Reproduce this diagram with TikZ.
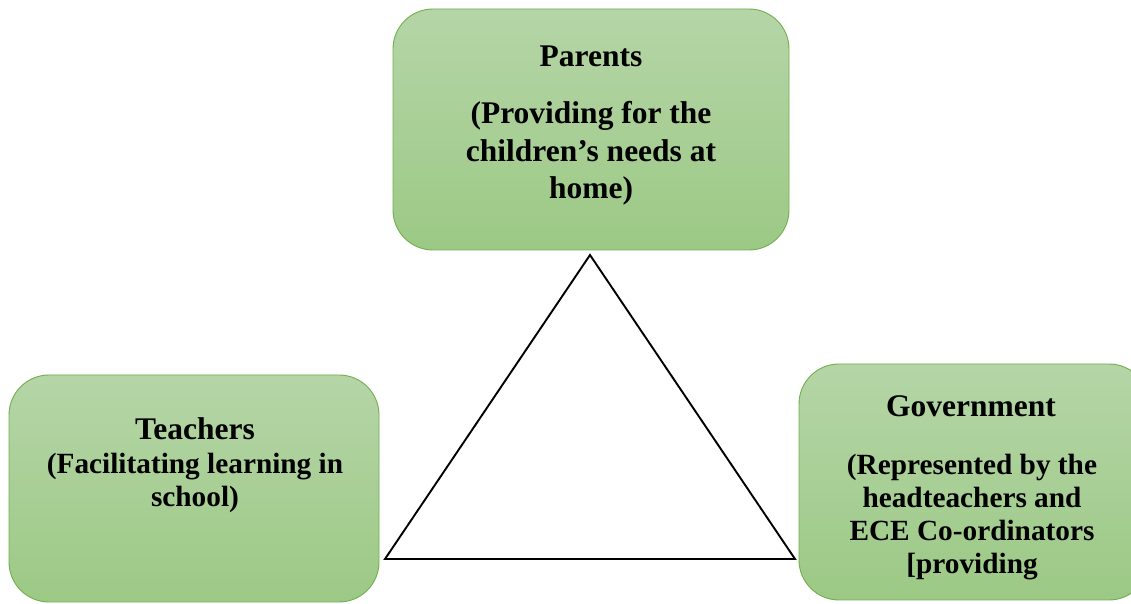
\documentclass[tikz,border=0pt]{standalone}
\usepackage{fontspec}
\setmainfont{Liberation Serif}
\definecolor{boxtop}{HTML}{B5D5A7}
\definecolor{boxbot}{HTML}{9CC985}
\definecolor{boxedge}{HTML}{72AE4E}
\begin{document}
\begin{tikzpicture}[x=1pt,y=1pt,
  box/.style={draw=boxedge, line width=0.9pt, rounded corners=40pt, top color=boxtop, bottom color=boxbot, inner sep=0pt},
  titletext/.style={anchor=base, inner sep=0pt, font=\bfseries\fontsize{31.5}{37.5}\selectfont},
  subbig/.style={anchor=base, inner sep=0pt, align=center, font=\bfseries\fontsize{31.5}{37.5}\selectfont},
  subsmall/.style={anchor=base, inner sep=0pt, align=center, font=\bfseries\fontsize{29.3}{33.3}\selectfont},
  tri/.style={draw=black, line width=1.9pt, line join=miter}]
\useasboundingbox (0,0) rectangle (1131,604);
\clip (0,0) rectangle (1131,604);
% boxes
\node[box, minimum width=396pt, minimum height=241pt] (parents) at (591,474.5) {};
\node[box, minimum width=370pt, minimum height=227pt] (teachers) at (194,115.5) {};
\node[box, minimum width=350pt, minimum height=236pt] (government) at (974,122) {};
% texts (base anchor = baseline of the last line)
\node[titletext] (parentsT) at (591,537) {Parents};
\node[subbig] (parentsS) at (591,405) {(Providing for the\\children’s needs at\\home)};
\node[titletext] (teachersT) at (195,164) {Teachers};
\node[subsmall] (teachersS) at (195,97) {(Facilitating learning in\\school)};
\node[titletext] (governmentT) at (971,187) {Government};
\node[subsmall] (governmentS) at (972,30) {(Represented by the\\headteachers and\\ECE Co-ordinators\\{[providing}};
% triangle
\coordinate (apex) at (590,349);
\coordinate (left) at (385,45);
\coordinate (right) at (795,45);
\draw[tri] (apex) -- (left) -- (right) -- cycle;
\end{tikzpicture}
\end{document}
